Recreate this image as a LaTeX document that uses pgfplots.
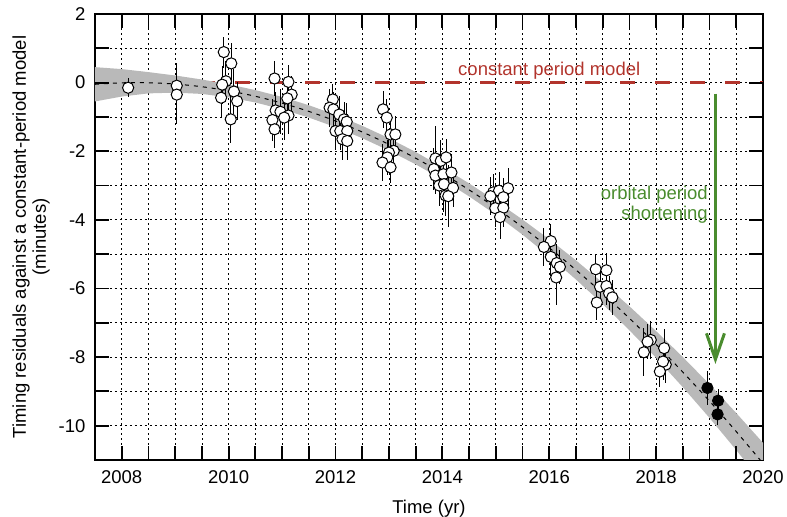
\documentclass[border=0pt]{standalone}
\usepackage{pgfplots}
\pgfplotsset{compat=1.18}
\usepackage{pgfplotstable}
\usepackage{fontspec}
\setmainfont{Liberation Sans}
\usetikzlibrary{arrows.meta}
\definecolor{redline}{RGB}{178,52,44}
\definecolor{greenline}{RGB}{74,140,46}
\definecolor{bandgray}{RGB}{185,185,185}

\pgfplotstableread{
t y e
2008.12 -0.15 0.28
2009.03 -0.09 0.65
2009.03 -0.35 0.85
2009.91 0.89 0.45
2010.05 0.56 0.60
2009.95 0.04 0.60
2009.88 -0.06 0.55
2010.10 -0.26 0.65
2009.86 -0.44 0.55
2010.16 -0.54 0.55
2010.04 -1.07 0.70
2010.86 0.12 0.50
2011.12 0.02 0.50
2011.18 -0.35 0.55
2011.10 -0.46 0.60
2010.88 -0.81 0.55
2010.97 -0.85 0.65
2011.12 -0.96 0.55
2010.82 -1.09 0.60
2010.86 -1.36 0.55
2011.04 -1.02 0.65
2011.95 -0.49 0.45
2011.89 -0.73 0.55
2011.96 -0.78 0.50
2012.07 -0.93 0.55
2012.16 -1.07 0.50
2012.21 -1.14 0.55
2012.00 -1.41 0.50
2012.09 -1.41 0.55
2012.22 -1.41 0.50
2012.13 -1.65 0.60
2012.22 -1.70 0.55
2012.89 -0.78 0.55
2012.96 -1.02 0.55
2013.03 -1.51 0.50
2013.12 -1.51 0.55
2013.09 -1.99 0.55
2013.00 -2.04 0.55
2012.97 -2.18 0.50
2012.88 -2.33 0.55
2013.03 -2.47 0.45
2013.87 -2.21 0.95
2013.97 -2.28 0.60
2014.07 -2.18 0.55
2013.84 -2.52 0.60
2013.87 -2.71 0.55
2014.02 -2.67 0.60
2014.17 -2.62 0.55
2013.94 -3.00 0.60
2014.03 -2.96 0.80
2014.20 -3.07 0.55
2014.06 -3.29 0.60
2014.11 -3.31 0.90
2014.95 -3.20 0.55
2015.06 -3.15 0.55
2015.23 -3.08 0.60
2015.14 -3.34 0.55
2014.99 -3.66 0.55
2015.14 -3.65 0.55
2015.08 -3.92 0.65
2014.90 -3.31 0.55
2016.03 -4.62 0.50
2015.90 -4.79 0.55
2016.03 -5.08 0.55
2016.14 -5.26 0.55
2016.20 -5.37 0.50
2016.13 -5.68 0.80
2016.87 -5.44 0.45
2017.07 -5.47 0.50
2016.95 -5.95 0.55
2017.07 -5.93 0.55
2017.12 -6.14 0.50
2017.18 -6.26 0.50
2016.89 -6.41 0.50
2017.90 -7.50 0.55
2017.84 -7.55 0.50
2017.77 -7.86 0.70
2018.15 -7.74 0.55
2018.18 -8.22 0.55
2018.13 -8.13 0.55
2018.07 -8.42 0.45
}\opendata

\pgfplotstableread{
t y e
2018.96 -8.90 0.50
2019.16 -9.27 0.35
2019.15 -9.67 0.30
}\newdata

\begin{document}
\begin{tikzpicture}[font=\fontsize{18.5bp}{20bp}\selectfont]
\begin{axis}[name=ax,
  scale only axis, width=668bp, height=446bp,
  xmin=2007.5, xmax=2020, ymin=-11, ymax=2,
  xtick={2008,2010,2012,2014,2016,2018,2020},
  minor xtick={2007.5,2008,2008.5,2009,2009.5,2010,2010.5,2011,2011.5,2012,2012.5,2013,2013.5,2014,2014.5,2015,2015.5,2016,2016.5,2017,2017.5,2018,2018.5,2019,2019.5,2020},
  ytick={-10,-8,-6,-4,-2,0,2},
  minor ytick={-11,-10,-9,-8,-7,-6,-5,-4,-3,-2,-1,0,1,2},
  xticklabels={2008,2010,2012,2014,2016,2018,2020},
  yticklabels={-10,-8,-6,-4,-2,0,2},
  grid=both,
  major grid style={black, line width=0.7bp, dash pattern=on 2bp off 3bp},
  minor grid style={black, line width=0.7bp, dash pattern=on 2bp off 3bp},
  axis line style={line width=2bp},
  xticklabel style={yshift=-7bp},
  yticklabel style={xshift=-6bp},
  xlabel={Time (yr)},
  xlabel style={at={(axis description cs:0.5,-0.0897)}, anchor=north, inner sep=0pt},
  ylabel={Timing residuals against a constant-period model\\(minutes)},
  ylabel style={align=center, at={(axis description cs:-0.0674,0.5)}, anchor=south, inner sep=0pt},
]
% constant period model
\addplot[redline, line width=3bp, dash pattern=on 15bp off 20bp] coordinates {(2007.5,0) (2020,0)};
% model band
\addplot[fill=bandgray, draw=none] coordinates {
(2007.5,0.451) (2008,0.394) (2008.5,0.306) (2009,0.208) (2009.5,0.090) (2010,-0.049) (2010.5,-0.218) (2011,-0.418) (2011.5,-0.658) (2012,-0.938) (2012.5,-1.259) (2013,-1.620) (2013.5,-2.022) (2014,-2.464) (2014.5,-2.936) (2015,-3.449) (2015.5,-3.992) (2016,-4.566) (2016.5,-5.180) (2017,-5.834) (2017.5,-6.519) (2018,-7.244) (2018.5,-7.999) (2019,-8.795) (2019.5,-9.632) (2020,-10.499)
(2020,-11.699) (2019.5,-10.712) (2019,-9.775) (2018.5,-8.879) (2018,-8.024) (2017.5,-7.219) (2017,-6.454) (2016.5,-5.740) (2016,-5.066) (2015.5,-4.432) (2015,-3.849) (2014.5,-3.316) (2014,-2.824) (2013.5,-2.382) (2013,-1.980) (2012.5,-1.619) (2012,-1.298) (2011.5,-1.018) (2011,-0.778) (2010.5,-0.578) (2010,-0.429) (2009.5,-0.330) (2009,-0.292) (2008.5,-0.314) (2008,-0.406) (2007.5,-0.549)
} -- cycle;
% best-fit curve
\addplot[black, line width=1bp, dash pattern=on 4bp off 5bp, smooth] coordinates {
(2007.5,-0.049) (2008,-0.006) (2008.5,-0.004) (2009,-0.042) (2009.5,-0.120) (2010,-0.239) (2010.5,-0.398) (2011,-0.598) (2011.5,-0.838) (2012,-1.118) (2012.5,-1.439) (2013,-1.800) (2013.5,-2.202) (2014,-2.644) (2014.5,-3.126) (2015,-3.649) (2015.5,-4.212) (2016,-4.816) (2016.5,-5.460) (2017,-6.144) (2017.5,-6.869) (2018,-7.634) (2018.5,-8.439) (2019,-9.285) (2019.5,-10.172) (2020,-11.099)
};
% error bars
\addplot[only marks, mark=none, error bars/.cd, y dir=both, y explicit, error mark=none,
  error bar style={draw=black, line width=1bp, solid}] table[x=t, y=y, y error=e] {\opendata};
\addplot[only marks, mark=none, error bars/.cd, y dir=both, y explicit, error mark=none,
  error bar style={draw=black, line width=1bp, solid}] table[x=t, y=y, y error=e] {\newdata};
% points
\addplot[only marks, mark=*, mark size=5.6bp, mark options={fill=white, draw=black, line width=1bp, solid}] table[x=t, y=y] {\opendata};
\addplot[only marks, mark=*, mark size=5.6bp, mark options={fill=black, draw=black, line width=1bp, solid}] table[x=t, y=y] {\newdata};
% arrow
\addplot[greenline, line width=3bp, -{Straight Barb[length=26bp, width=18bp]}] coordinates {(2019.11,-0.32) (2019.11,-8.2)};
\node[redline, anchor=base, inner sep=0pt] at (axis cs:2016.0,0.2) {constant period model};
\node[greenline, anchor=east, align=right, inner sep=0pt] at (axis cs:2018.97,-3.55) {orbital period\\shortening};
\end{axis}
% inward tick marks on all four sides (every 0.5 yr and every 1 minute)
\foreach \i in {1,...,24} {
  \draw[black, line width=1.8bp, solid] ([xshift=\i*26.72bp]ax.south west) -- ++(0,14bp);
  \draw[black, line width=1.8bp, solid] ([xshift=\i*26.72bp]ax.north west) -- ++(0,-14bp);
}
\foreach \j in {1,...,12} {
  \draw[black, line width=1.8bp, solid] ([yshift=\j*34.3077bp]ax.south west) -- ++(14bp,0);
  \draw[black, line width=1.8bp, solid] ([yshift=\j*34.3077bp]ax.south east) -- ++(-14bp,0);
}
\pgfresetboundingbox
\path[use as bounding box] ([xshift=-95bp,yshift=-57bp]ax.south west) rectangle ([xshift=24bp,yshift=14bp]ax.north east);
\end{tikzpicture}
\end{document}
